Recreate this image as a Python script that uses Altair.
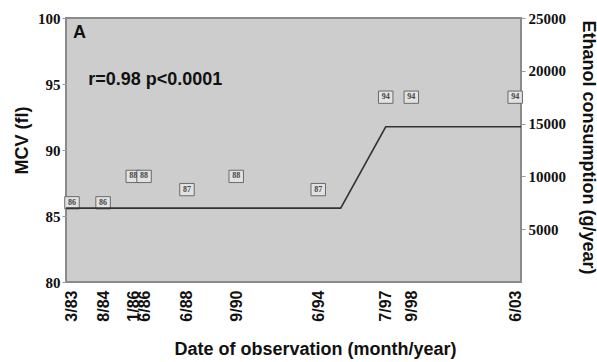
import altair as alt
import pandas as pd

# Observation dates and MCV readings (fl)
obs_dates = ["1983-03-15", "1984-08-15", "1986-01-01", "1986-06-30", "1988-06-15",
             "1990-09-15", "1994-06-15", "1997-07-15", "1998-09-15", "2003-06-15"]
mcv_values = [86, 86, 88, 88, 87, 88, 87, 94, 94, 94]

# Ethanol consumption (g/year)
ethanol_dates = ["1982-12-05", "1995-06-25", "1997-07-15", "2003-09-20"]
ethanol_values = [7000, 7000, 14700, 14700]

# Panel letter and correlation note, placed in MCV/date units
note_texts = ["A", "r=0.98 p<0.0001"]
note_dates = ["1983-04-01", "1983-12-10"]
note_mcv = [98.85, 95.3]
note_sizes = [18, 18]

x_domain = ["1982-12-05", "2003-09-20"]

obs = pd.DataFrame({"date": obs_dates, "mcv": mcv_values})
eth = pd.DataFrame({"date": ethanol_dates, "ethanol": ethanol_values})
notes = pd.DataFrame({"date": note_dates, "mcv": note_mcv, "label": note_texts, "size": note_sizes})

SANS = "Liberation Sans"
SERIF = "Liberation Serif"

x_enc = alt.X(
    "date:T",
    scale=alt.Scale(domain=x_domain),
    axis=alt.Axis(
        values=obs_dates,
        labelExpr="timeFormat(datum.value, '%-m/%y')",
        labelAngle=-90,
        labelPadding=8,
        labelOverlap=False,
        labelFont=SANS,
        labelFontWeight=700,
        labelFontSize=16,
        ticks=False,
        title="Date of observation (month/year)",
        titleX=249,
        titleY=58,
        titleBaseline="top",
    ),
)

y_mcv = alt.Y(
    "mcv:Q",
    scale=alt.Scale(domain=[80, 100]),
    axis=alt.Axis(
        values=[80, 85, 90, 95, 100],
        labelPadding=2,
        labelFont=SERIF,
        labelFontWeight=700,
        labelFontSize=15,
        title="MCV (fl)",
        titleX=-35,
        titleY=122,
    ),
)

y_eth = alt.Y(
    "ethanol:Q",
    scale=alt.Scale(domain=[0, 25000]),
    axis=alt.Axis(
        orient="right",
        values=[5000, 10000, 15000, 20000, 25000],
        format="d",
        labelPadding=3,
        labelFont=SERIF,
        labelFontWeight=700,
        labelFontSize=15,
        title="Ethanol consumption (g/year)",
        titleX=57,
        titleY=129,
    ),
)

boxes = alt.Chart(obs).mark_point(
    shape="M-1,-0.85L1,-0.85L1,0.85L-1,0.85Z",
    filled=True,
    fill="#e2e2e2",
    stroke="#6a6a6a",
    strokeWidth=1,
    size=210,
    opacity=1,
).encode(x=x_enc, y=y_mcv)

box_labels = alt.Chart(obs).mark_text(
    font=SERIF, fontSize=8, fontWeight="bold", color="#444", align="center", baseline="middle"
).encode(x=x_enc, y=y_mcv, text="mcv:Q")

note_marks = alt.Chart(notes).mark_text(
    font=SANS, fontWeight="bold", color="#111", align="left", baseline="middle"
).encode(x=x_enc, y=y_mcv, text="label:N", size=alt.Size("size:Q", scale=None, legend=None))

mcv_layer = alt.layer(boxes, box_labels, note_marks)

eth_line = alt.Chart(eth).mark_line(color="#333", strokeWidth=1.6).encode(x=x_enc, y=y_eth)

chart = (
    alt.layer(mcv_layer, eth_line)
    .resolve_scale(y="independent")
    .properties(
        width=455,
        height=264,
        padding={"left": 66, "top": 18, "right": 76, "bottom": 80},
        autosize=alt.AutoSizeParams(type="none"),
        background="white",
    )
    .configure_view(fill="#cdcdcd", stroke="#8a8a8a", strokeWidth=2)
    .configure_axis(
        domain=False,
        grid=False,
        tickColor="#999",
        tickSize=4,
        labelColor="#111",
        titleColor="#111",
        titleFont=SANS,
        titleFontWeight="bold",
        titleFontSize=18,
    )
)

chart.save("out.html", embed_options={"renderer": "svg", "actions": False})
